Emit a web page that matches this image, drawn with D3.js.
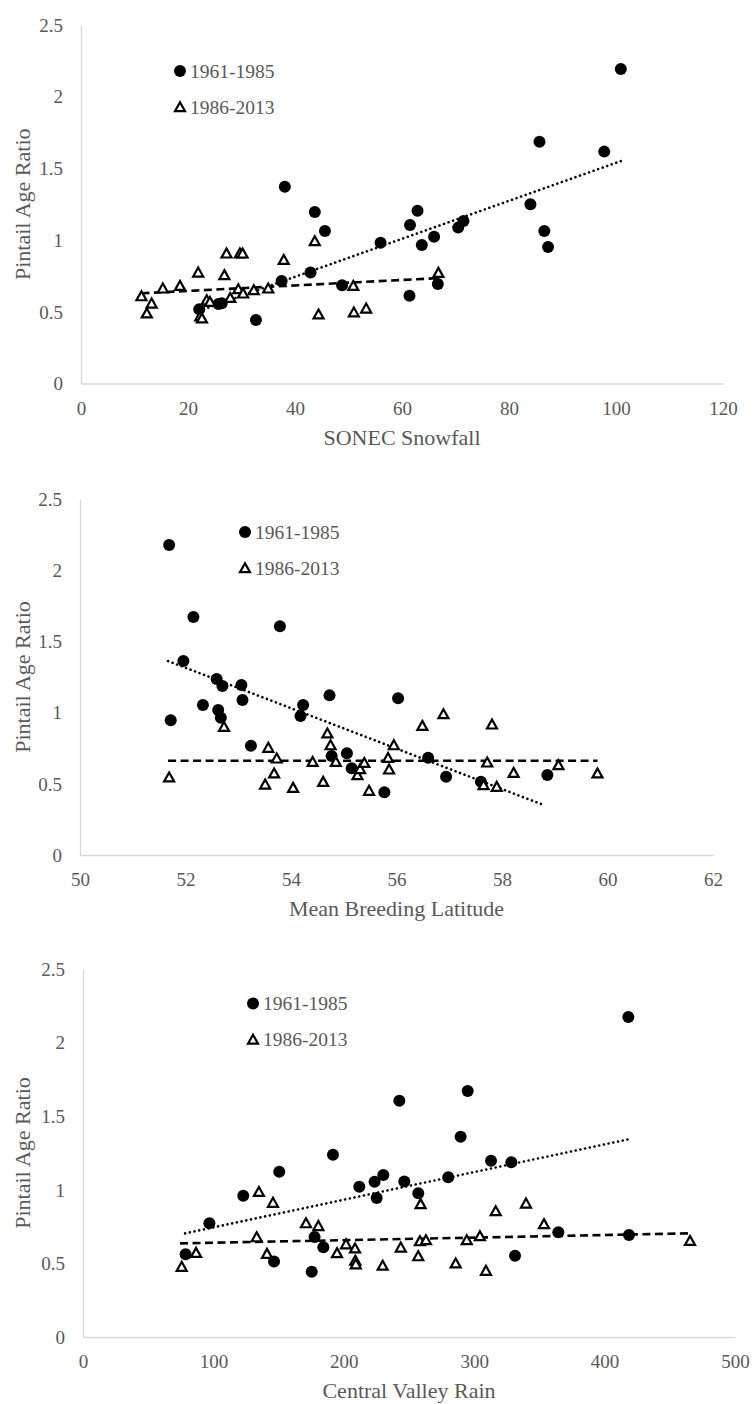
<!DOCTYPE html>
<html>
<head>
<meta charset="utf-8">
<script src="https://cdn.jsdelivr.net/npm/d3@7"></script>
<style>
  html, body { margin: 0; padding: 0; background: #fff; }
  svg { display: block; }
</style>
</head>
<body>
<svg id="chart" width="756" height="1404"></svg>
<script>
// ---------- DATA ----------
const seriesNames = ["1961-1985", "1986-2013"];
const yTicks = [0, 0.5, 1, 1.5, 2, 2.5];
const yTickLabels = ["0", "0.5", "1", "1.5", "2", "2.5"];
const yTitle = "Pintail Age Ratio";

// Panel 1: SONEC Snowfall
const snowTitle = "SONEC Snowfall";
const snowTicks = [0, 20, 40, 60, 80, 100, 120];
const snowEarlyX = [22.1, 25.7, 26.3, 32.7, 37.5, 38.1, 42.9, 43.7, 45.6, 48.8, 56.0, 61.4, 61.5, 62.9, 63.7, 66.0, 66.7, 70.5, 71.5, 84.0, 85.7, 86.6, 87.3, 97.8, 100.9];
const snowEarlyY = [0.518, 0.554, 0.559, 0.443, 0.714, 1.372, 0.774, 1.196, 1.063, 0.685, 0.982, 0.612, 1.105, 1.205, 0.966, 1.024, 0.694, 1.087, 1.133, 1.25, 1.686, 1.063, 0.952, 1.617, 2.193];
const snowLateX = [11.3, 12.3, 13.2, 15.3, 18.5, 21.9, 22.3, 22.6, 23.5, 24.1, 26.8, 27.2, 27.9, 29.4, 29.7, 30.2, 30.3, 32.3, 35.0, 37.9, 43.7, 44.4, 50.9, 51.0, 53.3, 66.8];
const snowLateY = [0.61, 0.49, 0.559, 0.664, 0.682, 0.775, 0.47, 0.455, 0.582, 0.57, 0.757, 0.908, 0.598, 0.659, 0.908, 0.908, 0.629, 0.652, 0.664, 0.863, 0.994, 0.483, 0.682, 0.497, 0.524, 0.773];
const snowEarlyTrendX = [22.1, 100.9], snowEarlyTrendY = [0.507, 1.551];
const snowLateTrendX = [11.3, 66.8], snowLateTrendY = [0.629, 0.735];

// Panel 2: Mean Breeding Latitude
const latTitle = "Mean Breeding Latitude";
const latTicks = [50, 52, 54, 56, 58, 60, 62];
const latEarlyX = [51.69, 51.72, 51.96, 52.15, 52.33, 52.59, 52.62, 52.67, 52.70, 53.06, 53.08, 53.24, 53.79, 54.18, 54.23, 54.73, 54.77, 55.06, 55.15, 55.77, 56.03, 56.60, 56.94, 57.60, 58.86];
const latEarlyY = [2.177, 0.946, 1.362, 1.671, 1.053, 1.236, 1.018, 0.964, 1.187, 1.194, 1.088, 0.768, 1.606, 0.976, 1.053, 1.121, 0.695, 0.714, 0.609, 0.44, 1.1, 0.683, 0.55, 0.515, 0.562];
const latLateX = [51.69, 52.73, 53.51, 53.57, 53.68, 53.73, 54.04, 54.41, 54.61, 54.69, 54.75, 54.85, 55.26, 55.31, 55.39, 55.48, 55.84, 55.86, 55.95, 56.49, 56.89, 57.65, 57.72, 57.81, 57.90, 58.22, 59.07, 59.81];
const latLateY = [0.546, 0.901, 0.496, 0.754, 0.574, 0.679, 0.473, 0.655, 0.515, 0.855, 0.772, 0.655, 0.562, 0.604, 0.648, 0.452, 0.683, 0.602, 0.772, 0.908, 0.99, 0.492, 0.651, 0.918, 0.48, 0.578, 0.632, 0.574];
const latEarlyTrendX = [51.67, 58.79], latEarlyTrendY = [1.362, 0.351];
const latLateTrendX = [51.67, 59.81], latLateTrendY = [0.662, 0.662];

// Panel 3: Central Valley Rain
const rainTitle = "Central Valley Rain";
const rainTicks = [0, 100, 200, 300, 400, 500];
const rainEarlyX = [78.7, 96.9, 122.9, 146.5, 150.5, 175.4, 177.6, 184.3, 191.7, 211.9, 223.6, 225.2, 230.3, 242.6, 246.4, 257.1, 280.1, 289.6, 295.0, 312.9, 328.5, 331.3, 364.5, 418.2, 418.7];
const rainEarlyY = [0.562, 0.772, 0.959, 0.513, 1.123, 0.444, 0.68, 0.609, 1.238, 1.02, 1.055, 0.944, 1.1, 1.605, 1.057, 0.976, 1.085, 1.361, 1.671, 1.198, 1.187, 0.552, 0.711, 2.174, 0.693];
const rainLateX = [75.7, 86.7, 133.2, 134.9, 141.1, 145.7, 171.0, 180.5, 194.8, 201.7, 208.6, 208.8, 209.2, 229.8, 243.7, 257.1, 258.4, 258.9, 263.0, 285.8, 294.3, 304.4, 309.0, 316.5, 339.7, 353.5, 465.5];
const rainLateY = [0.478, 0.573, 0.679, 0.987, 0.566, 0.913, 0.774, 0.755, 0.571, 0.631, 0.603, 0.52, 0.495, 0.486, 0.609, 0.55, 0.652, 0.904, 0.659, 0.501, 0.659, 0.686, 0.451, 0.856, 0.908, 0.768, 0.654];
const rainEarlyTrendX = [78.3, 418.2], rainEarlyTrendY = [0.704, 1.343];
const rainLateTrendX = [74.4, 465.5], rainLateTrendY = [0.636, 0.704];

// ---------- LAYOUT ----------
const panels = [
  { title: snowTitle, ticks: snowTicks, x0: 81, x1: 723, y0: 383.5, y1: 25, legX: 180, legY: 71,
    eX: snowEarlyX, eY: snowEarlyY, lX: snowLateX, lY: snowLateY,
    etX: snowEarlyTrendX, etY: snowEarlyTrendY, ltX: snowLateTrendX, ltY: snowLateTrendY },
  { title: latTitle, ticks: latTicks, x0: 80, x1: 713, y0: 855, y1: 499, legX: 245, legY: 532,
    eX: latEarlyX, eY: latEarlyY, lX: latLateX, lY: latLateY,
    etX: latEarlyTrendX, etY: latEarlyTrendY, ltX: latLateTrendX, ltY: latLateTrendY },
  { title: rainTitle, ticks: rainTicks, x0: 83, x1: 735, y0: 1337, y1: 969, legX: 253, legY: 1003.5,
    eX: rainEarlyX, eY: rainEarlyY, lX: rainLateX, lY: rainLateY,
    etX: rainEarlyTrendX, etY: rainEarlyTrendY, ltX: rainLateTrendX, ltY: rainLateTrendY }
];

const FONT = "'Liberation Serif', 'Times New Roman', Times, serif";
const TEXT = "#595959";
const AXIS = "#d9d9d9";
const triPath = "M0,-4.8L5,4.2L-5,4.2Z";

const svg = d3.select("#chart");

panels.forEach(p => {
  const ext = d3.extent(p.ticks);
  const x = d3.scaleLinear().domain(ext).range([p.x0, p.x1]);
  const y = d3.scaleLinear().domain([0, 2.5]).range([p.y0, p.y1]);
  const g = svg.append("g");

  // x axis
  const xa = g.append("g").attr("transform", `translate(0,${p.y0})`)
    .call(d3.axisBottom(x).tickValues(p.ticks).tickFormat(d3.format("d")).tickSize(0).tickSizeOuter(0));
  xa.select(".domain").attr("stroke", AXIS).attr("stroke-width", 1.3);
  xa.selectAll("text").attr("y", 31).attr("dy", null)
    .attr("fill", TEXT).style("font-family", FONT).style("font-size", "19px");

  // y axis
  const ya = g.append("g").attr("transform", `translate(${p.x0},0)`)
    .call(d3.axisLeft(y).tickValues(yTicks).tickFormat((d, i) => yTickLabels[i]).tickSize(0).tickSizeOuter(0).tickPadding(18));
  ya.select(".domain").attr("stroke", AXIS).attr("stroke-width", 1.3);
  ya.selectAll("text").attr("dy", "0.33em")
    .attr("fill", TEXT).style("font-family", FONT).style("font-size", "19px");

  // titles
  g.append("text").attr("x", (p.x0 + p.x1) / 2).attr("y", p.y0 + 61)
    .attr("text-anchor", "middle").attr("fill", TEXT)
    .style("font-family", FONT).style("font-size", "22px").text(p.title);
  g.append("text").attr("transform", `translate(29.5,${(p.y0 + p.y1) / 2}) rotate(-90)`)
    .attr("text-anchor", "middle").attr("fill", TEXT)
    .style("font-family", FONT).style("font-size", "22px").text(yTitle);

  // trend lines
  const line = d3.line().x(d => x(d[0])).y(d => y(d[1]));
  g.append("path").datum(d3.zip(p.etX, p.etY)).attr("d", line)
    .attr("fill", "none").attr("stroke", "#000").attr("stroke-width", 2.6)
    .attr("stroke-linecap", "round").attr("stroke-dasharray", "0.01 4.8");
  g.append("path").datum(d3.zip(p.ltX, p.ltY)).attr("d", line)
    .attr("fill", "none").attr("stroke", "#000").attr("stroke-width", 2.6)
    .attr("stroke-dasharray", "8 4.5");

  // points
  g.append("g").selectAll("circle").data(d3.zip(p.eX, p.eY)).join("circle")
    .attr("cx", d => x(d[0])).attr("cy", d => y(d[1])).attr("r", 6).attr("fill", "#000");
  g.append("g").selectAll("path").data(d3.zip(p.lX, p.lY)).join("path")
    .attr("transform", d => `translate(${x(d[0])},${y(d[1])})`).attr("d", triPath)
    .attr("fill", "#fff").attr("stroke", "#000").attr("stroke-width", 2.2)
    .attr("stroke-linejoin", "miter");

  // legend
  const lg = g.append("g");
  lg.append("circle").attr("cx", p.legX).attr("cy", p.legY).attr("r", 6).attr("fill", "#000");
  lg.append("path").attr("transform", `translate(${p.legX},${p.legY + 36})`).attr("d", triPath)
    .attr("fill", "#fff").attr("stroke", "#000").attr("stroke-width", 2.2);
  seriesNames.forEach((s, i) => {
    lg.append("text").attr("x", p.legX + 10).attr("y", p.legY + i * 36 + 6.8)
      .attr("fill", TEXT).style("font-family", FONT).style("font-size", "19.5px").text(s);
  });
});
</script>
</body>
</html>
